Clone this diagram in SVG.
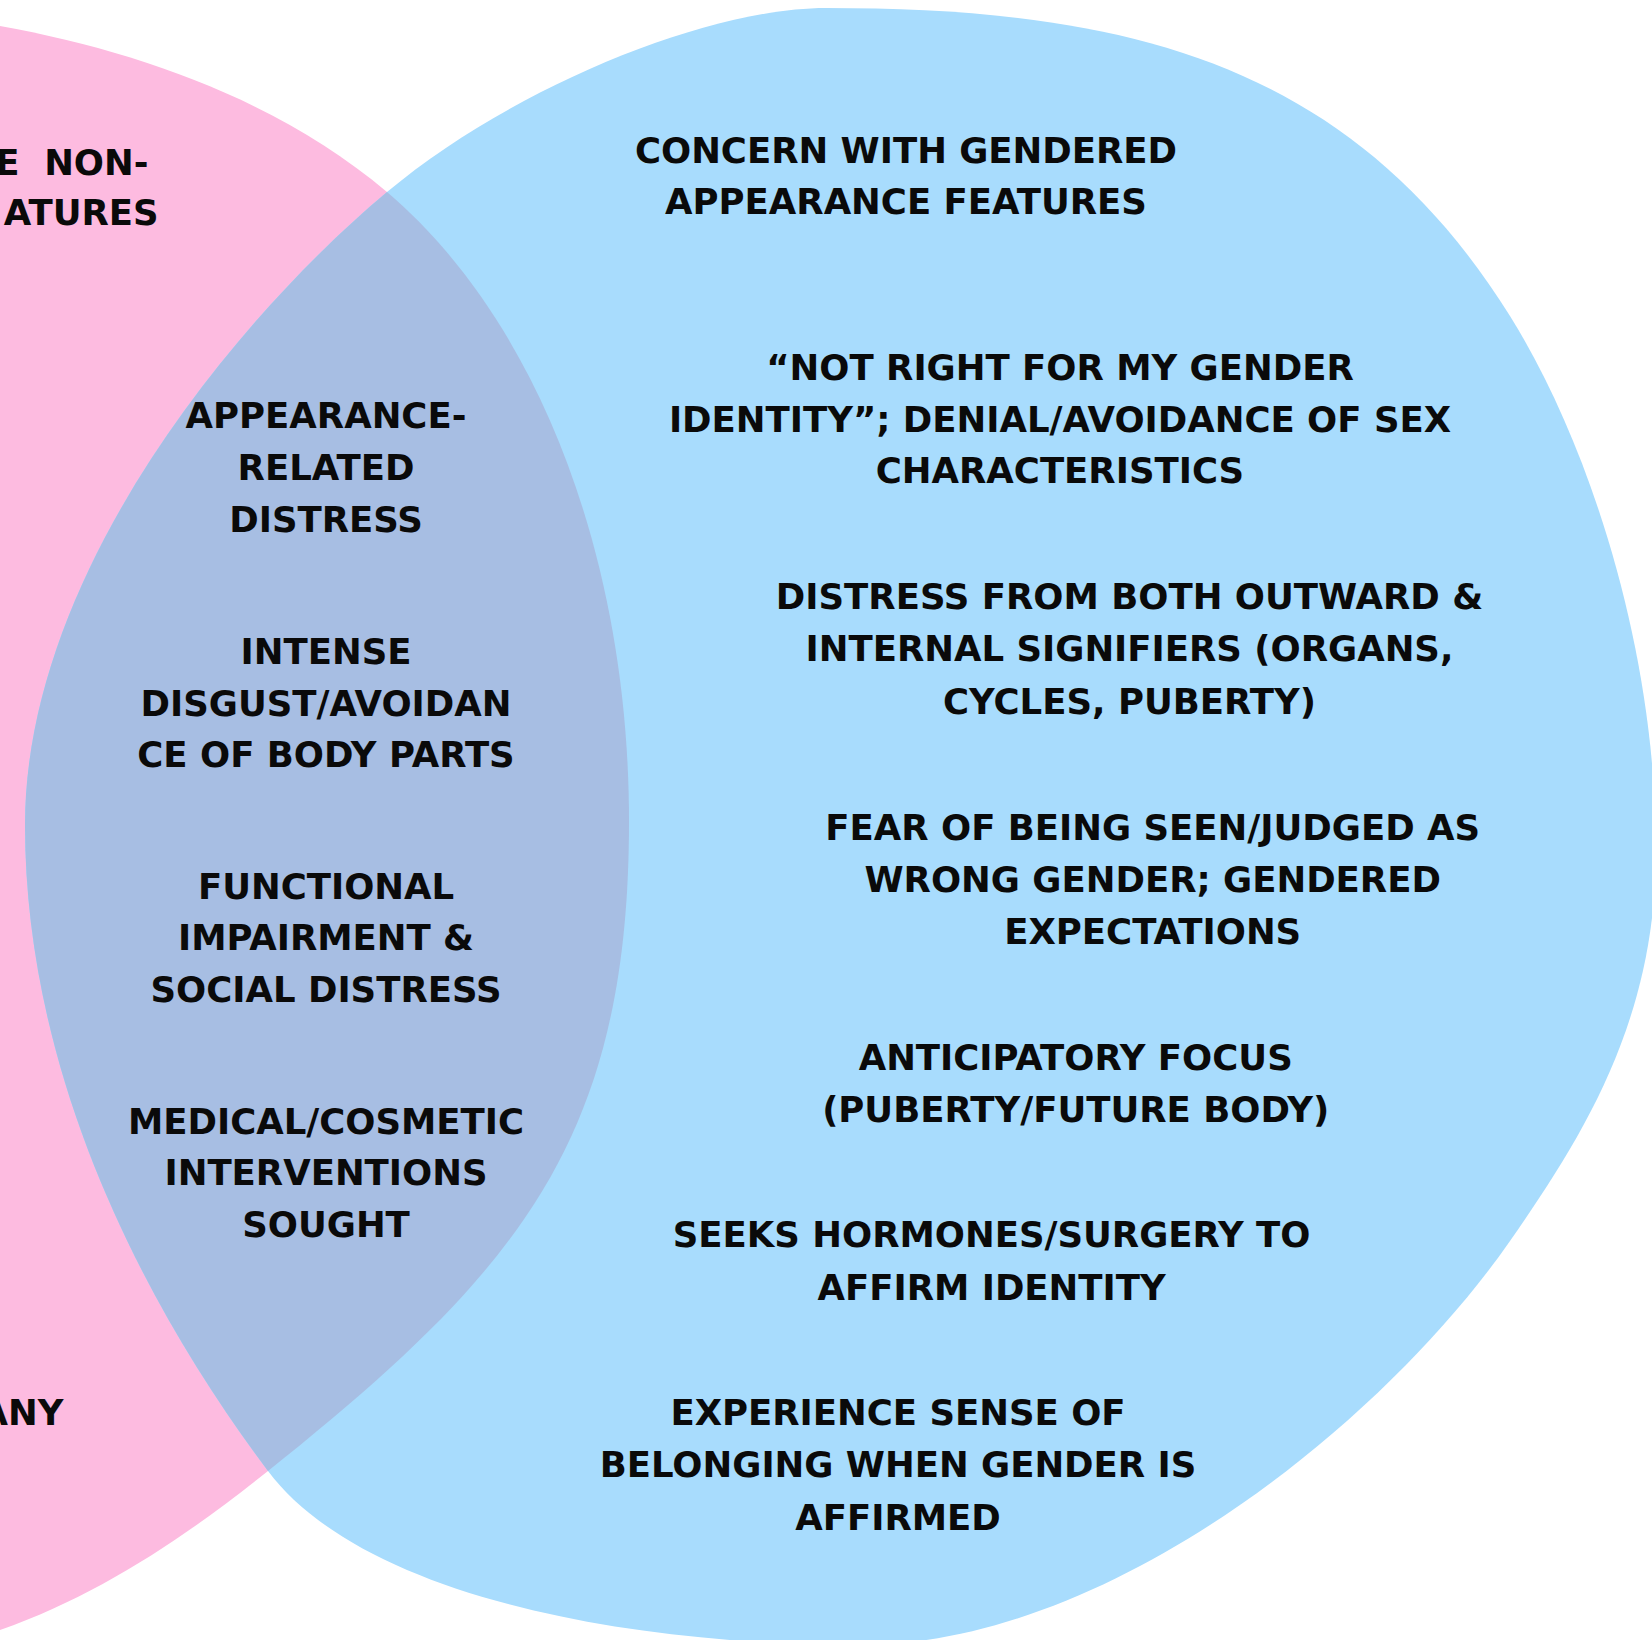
<svg xmlns="http://www.w3.org/2000/svg" width="1652" height="1640" viewBox="0 0 1652 1640">
<style>
.t{font-family:"DejaVu Sans","Liberation Sans",sans-serif;font-weight:bold;font-size:35.5px;fill:#0a0a0a;text-anchor:middle}
.e{text-anchor:end}
.pink{fill:#FDBBE0}
.blue{fill:#A8DCFD}
.over{fill:#A7BEE3}
</style>
<defs>
<path id="pinkShape" d="M -300,-10 L 0,26 C 137.8,50.8 280.3,101.3 387,192 C 539.4,321.6 629,561 629,821 C 629,1141 518,1271 268,1471 C 186,1536.6 99,1595.3 0,1630 L -300,1700 Z"/>
<path id="blueShape" d="M 25,825 C 25,575 233.8,320.6 387,192 C 509.6,89.1 706,8 826,8 C 1126,8 1351,61.6 1510,316 C 1589.5,443.2 1656,650 1656,850 C 1656,1020 1584.1,1134.4 1510,1241 C 1384.6,1421.4 1110,1645 860,1645 C 610,1645 358,1591 268,1471 C 148,1311 25,1080 25,825 Z"/>
<clipPath id="blueClip"><use href="#blueShape"/></clipPath>
</defs>
<rect width="1652" height="1640" fill="#ffffff"/>
<g id="shapes">
<use href="#pinkShape" class="pink"/>
<use href="#blueShape" class="blue"/>
<use href="#pinkShape" class="over" clip-path="url(#blueClip)"/>
</g>
<g id="node-left-top"><text class="t e" xml:space="preserve"><tspan x="148.5" y="175">E  NON-</tspan><tspan x="158.7" y="225">ATURES</tspan></text></g>
<g id="node-left-bottom"><text class="t e"><tspan x="63.5" y="1425">ANY</tspan></text></g>
<g id="node-overlap-1"><text class="t"><tspan x="326" y="428">APPEARANCE-</tspan><tspan x="326" y="480">RELATED</tspan><tspan x="326" y="532">DISTRESS</tspan></text></g>
<g id="node-overlap-2"><text class="t"><tspan x="326" y="664">INTENSE</tspan><tspan x="326" y="715.5">DISGUST/AVOIDAN</tspan><tspan x="326" y="767">CE OF BODY PARTS</tspan></text></g>
<g id="node-overlap-3"><text class="t"><tspan x="326" y="898.5">FUNCTIONAL</tspan><tspan x="326" y="950">IMPAIRMENT &amp;</tspan><tspan x="326" y="1002">SOCIAL DISTRESS</tspan></text></g>
<g id="node-overlap-4"><text class="t"><tspan x="326" y="1133.5">MEDICAL/COSMETIC</tspan><tspan x="326" y="1185">INTERVENTIONS</tspan><tspan x="326" y="1237">SOUGHT</tspan></text></g>
<g id="node-right-1"><text class="t"><tspan x="906" y="163">CONCERN WITH GENDERED</tspan><tspan x="906" y="214">APPEARANCE FEATURES</tspan></text></g>
<g id="node-right-2"><text class="t"><tspan x="1060" y="380">“NOT RIGHT FOR MY GENDER</tspan><tspan x="1060" y="431.7">IDENTITY”; DENIAL/AVOIDANCE OF SEX</tspan><tspan x="1060" y="483">CHARACTERISTICS</tspan></text></g>
<g id="node-right-3"><text class="t"><tspan x="1129.5" y="609.2">DISTRESS FROM BOTH OUTWARD &amp;</tspan><tspan x="1129.5" y="661.4">INTERNAL SIGNIFIERS (ORGANS,</tspan><tspan x="1129.5" y="713.7">CYCLES, PUBERTY)</tspan></text></g>
<g id="node-right-4"><text class="t"><tspan x="1152.7" y="839.5">FEAR OF BEING SEEN/JUDGED AS</tspan><tspan x="1152.7" y="891.6">WRONG GENDER; GENDERED</tspan><tspan x="1152.7" y="943.8">EXPECTATIONS</tspan></text></g>
<g id="node-right-5"><text class="t"><tspan x="1075.7" y="1069.7">ANTICIPATORY FOCUS</tspan><tspan x="1075.7" y="1122">(PUBERTY/FUTURE BODY)</tspan></text></g>
<g id="node-right-6"><text class="t"><tspan x="991.6" y="1247.4">SEEKS HORMONES/SURGERY TO</tspan><tspan x="991.6" y="1299.6">AFFIRM IDENTITY</tspan></text></g>
<g id="node-right-7"><text class="t"><tspan x="898" y="1425">EXPERIENCE SENSE OF</tspan><tspan x="898" y="1477.3">BELONGING WHEN GENDER IS</tspan><tspan x="898" y="1529.5">AFFIRMED</tspan></text></g>
</svg>
